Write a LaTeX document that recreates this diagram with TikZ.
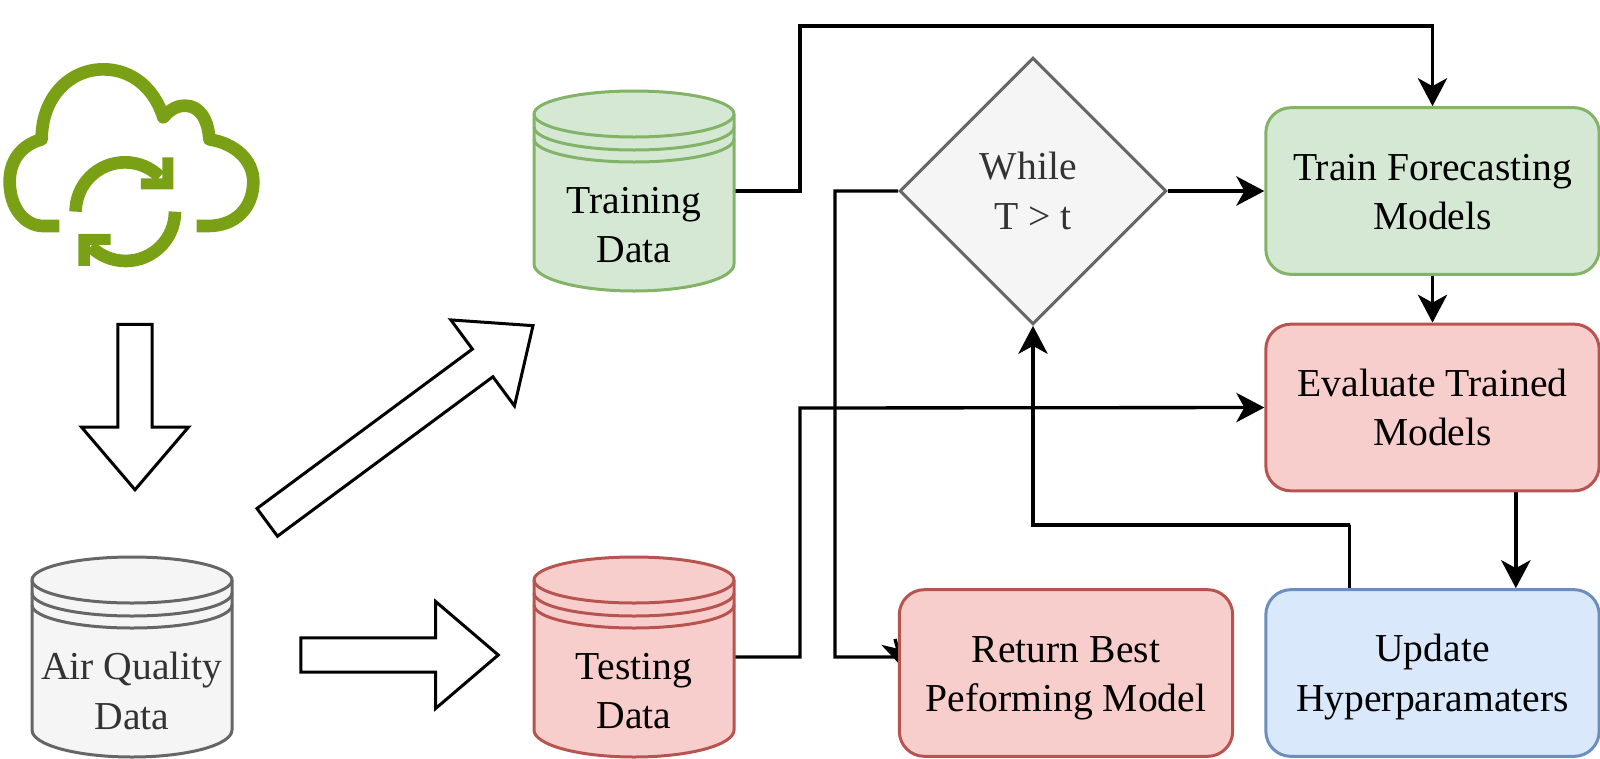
\documentclass[tikz,border=0pt]{standalone}
\usepackage{fontspec}
\setmainfont{Liberation Serif}
\usetikzlibrary{arrows.meta,shapes.geometric,shapes.arrows,backgrounds}
\definecolor{greenfill}{HTML}{D5E8D4}
\definecolor{greenline}{HTML}{82B366}
\definecolor{redfill}{HTML}{F8CECC}
\definecolor{redline}{HTML}{B85450}
\definecolor{bluefill}{HTML}{DAE8FC}
\definecolor{blueline}{HTML}{6C8EBF}
\definecolor{grayfill}{HTML}{F5F5F5}
\definecolor{grayline}{HTML}{666666}
\definecolor{cloudgreen}{HTML}{7AA116}
\tikzset{
	label text/.style={font=\fontsize{29.7}{37}\selectfont,align=center},
	box/.style={draw,rectangle,rounded corners=18.75pt,line width=2.25pt,minimum width=250pt,minimum height=125pt,inner sep=0pt},
	green box/.style={box,draw=greenline,fill=greenfill},
	red box/.style={box,draw=redline,fill=redfill},
	blue box/.style={box,draw=blueline,fill=bluefill},
	conn/.style={line width=2.5pt,-{Stealth[length=21pt,width=22pt,inset=6pt]}},
	block arrow/.style={draw,single arrow,line width=2.25pt,fill=white,inner xsep=0pt,inner ysep=11.8pt,single arrow head extend=27.2pt,single arrow tip angle=81},
}
% name, centre, draw colour, fill colour, text colour, text
\newcommand{\datastore}[6]{
	\begin{scope}[shift={#2}]
	\draw[line width=2.25pt,draw=#3,fill=#4,line join=round] (-100,-77) arc[start angle=180,end angle=360,x radius=100,y radius=23] -- (100,73) arc[start angle=0,end angle=180,x radius=100,y radius=27] -- cycle;
	\draw[line width=2.25pt,draw=#3] (-100,-77) arc[start angle=180,end angle=0,x radius=100,y radius=23];
	\draw[line width=2.25pt,draw=#3] (-100,-64) arc[start angle=180,end angle=0,x radius=100,y radius=23];
	\draw[line width=2.25pt,draw=#3] (-100,-52) arc[start angle=180,end angle=0,x radius=100,y radius=23];
	\node (#1) [minimum width=150pt,minimum height=150pt,inner sep=0pt] at (0,0) {};
	\node (#1 text) [label text,text=#5] at (0,34) {#6};
	\end{scope}
}
\begin{document}
\begin{tikzpicture}[x=0.75pt,y=0.75pt,yscale=-1,xscale=1]
	\useasboundingbox (0,0) rectangle (1600,758);
	% cloud icon
	\begin{scope}[shift={(0,40)},scale=0.3333]
	\draw[cloudgreen,line width=9.5pt,line join=round] (590,558) -- (625,558) .. controls (705,558) and (760,505) .. (760,425) .. controls (760,360) and (705,310) .. (628,298) .. controls (625,240) and (600,197) .. (555,197) .. controls (525,197) and (505,215) .. (490,232) .. controls (465,150) and (400,88) .. (310,88) .. controls (210,88) and (125,170) .. (125,298) .. controls (65,315) and (29,360) .. (29,425) .. controls (29,505) and (75,558) .. (130,558) -- (178,558);
	\draw[cloudgreen,line width=9.5pt] (227,515) arc[start angle=180,end angle=315,radius=148];
	\draw[cloudgreen,line width=9.5pt] (525,515) arc[start angle=0,end angle=135,radius=148];
	\fill[cloudgreen] (487,352) -- (520,352) -- (520,448) -- (423,448) -- (423,415) -- (487,415) -- cycle;
	\fill[cloudgreen] (235,582) -- (332,582) -- (332,615) -- (270,615) -- (270,678) -- (235,678) -- cycle;
	\end{scope}

	% data stores
	\datastore{air}{(132,657)}{grayline}{grayfill}{black!80}{Air Quality\\Data}
	\datastore{training}{(634,191)}{greenline}{greenfill}{black}{Training\\Data}
	\datastore{testing}{(634,657)}{redline}{redfill}{black}{Testing\\Data}

	% hollow arrows
	\node (arrow down) [block arrow,rotate=-90,minimum height=124pt] at (135,397) {};
	\node (arrow right) [block arrow,minimum height=148pt] at (389.5,655) {};
	\node (arrow up) [block arrow,rotate=36.5,minimum height=248pt] at (392,430) {};

	% process nodes
	\node (while) [draw=grayline,fill=grayfill,shape=diamond,line width=2.25pt,minimum width=200pt,minimum height=200pt,inner sep=0pt,label text,text=black!80] at (1033,191) {While\hspace*{7pt}\\T > t};
	\node (train) [green box] at (1432.5,191) {};
	\node (evaluate) [red box] at (1432.5,407.5) {};
	\node (update) [blue box] at (1432.5,673) {};
	\node (return) [red box] at (1066,673) {};
	\node (train text) [label text] at (1432.5,192) {Train Forecasting\\Models};
	\node (evaluate text) [label text] at (1432.5,407.5) {Evaluate Trained\\Models};
	\node (update text) [label text] at (1432.5,677) {Update\\Hyperparamaters};
	\node (return text) [label text] at (1066,678) {Return Best\\Peforming Model};

	\coordinate (train bend) at (800,26);
	\coordinate (test bend) at (800,408);
	\coordinate (while bend) at (835,657);
	\coordinate (return back) at (895,639);
	\coordinate (return tip) at (903,668);
	\coordinate (update bend) at (1350,525);

	% connectors
	\begin{pgfonlayer}{background}
	\draw[conn] (training.east) -| (train bend) -| (train.north);
	\draw[conn] (testing.east) -| (test bend) -- (evaluate.west);
	\draw[conn] (while.east) -- (train.west);
	\draw[conn] (while.west) -| (while bend) -- (while bend -| return.west) (return back) -- (return tip);
	\draw[conn] (train.south) -- (evaluate.north);
	\draw[conn] ([xshift=62.5pt]evaluate.south) -- ([xshift=62.5pt]update.north);
	\draw[conn] ([xshift=-62.5pt]update.north) |- (update bend) -| (while.south);
	\end{pgfonlayer}
\end{tikzpicture}
\end{document}
